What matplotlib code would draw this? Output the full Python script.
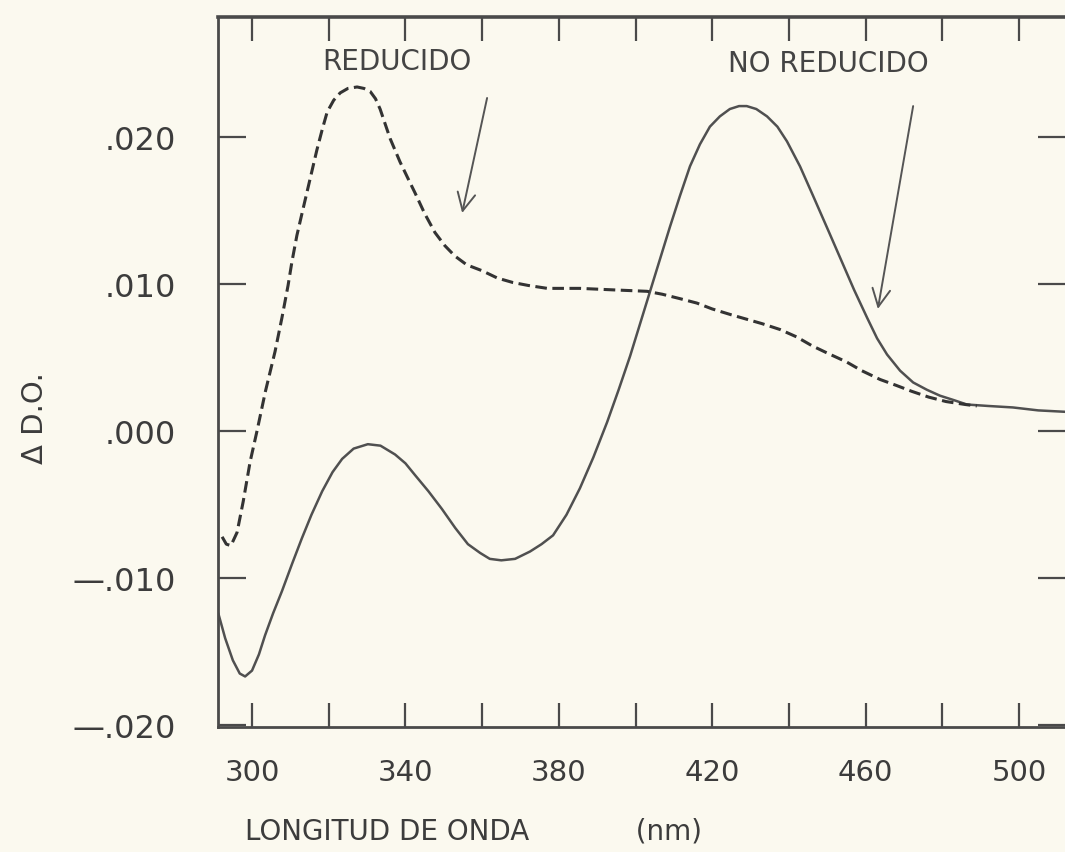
import matplotlib

matplotlib.use("Agg")

import matplotlib.pyplot as plt
from matplotlib.ticker import FixedLocator, NullFormatter

# spectra (nm, delta OD)
reducido_nm = [292.2, 293.3, 294.5, 296.1, 297.7, 299.5, 301.3, 303.5, 306.0, 307.8,
               309.4, 310.4, 311.7, 313.3, 315.1, 316.9, 318.3, 319.6, 321.3, 323.0,
               325.0, 327.4, 329.2, 330.8, 332.2, 333.4, 336.0, 338.6, 341.0, 342.5,
               345.0, 347.7, 350.3, 352.9, 356.0, 360.0, 364.0, 368.0, 372.0, 377.0,
               385.5, 394.0, 403.0, 407.0, 411.6, 416.0, 420.0, 425.0, 429.0, 433.0,
               437.7, 442.0, 446.0, 450.0, 455.0, 459.0, 463.8, 468.0, 472.0, 476.5,
               481.0, 486.0, 489.0]
reducido_do = [-0.0072, -0.0077, -0.0078, -0.0069, -0.0048, -0.0021, 0.0000, 0.0027, 0.0054, 0.0077,
               0.0099, 0.0115, 0.0133, 0.0151, 0.0171, 0.0191, 0.0205, 0.0217, 0.0225, 0.0230,
               0.0233, 0.0234, 0.0233, 0.0231, 0.0226, 0.0219, 0.0199, 0.0183, 0.0170, 0.0162,
               0.0148, 0.0135, 0.0126, 0.0119, 0.0113, 0.0109, 0.0104, 0.0101, 0.0099, 0.0097,
               0.0097, 0.0096, 0.0095, 0.0093, 0.0090, 0.0087, 0.0083, 0.0079, 0.0076, 0.0073,
               0.0069, 0.0064, 0.0058, 0.0053, 0.0047, 0.0041, 0.0035, 0.0031, 0.0027, 0.0023,
               0.0020, 0.0018, 0.0017]

no_reducido_nm = [291.2, 293.0, 295.0, 296.8, 298.2, 300.0, 301.8, 303.4, 305.5, 307.8,
                  310.5, 313.0, 315.5, 318.3, 321.0, 323.5, 326.5, 330.2, 333.5, 337.3,
                  340.0, 342.5, 346.0, 349.5, 353.0, 356.3, 359.5, 362.0, 365.0, 368.6,
                  372.5, 375.5, 378.5, 382.0, 385.5, 389.0, 392.6, 395.6, 398.6, 401.2,
                  403.8, 406.4, 409.0, 411.6, 414.2, 416.8, 419.4, 422.0, 424.6, 427.0,
                  429.0, 431.5, 434.3, 437.0, 439.5, 442.9, 446.3, 450.5, 454.0, 457.0,
                  460.4, 463.0, 465.6, 469.0, 472.4, 476.0, 479.4, 483.0, 486.4, 492.0,
                  498.4, 505.0, 512.3]
no_reducido_do = [-0.0124, -0.0141, -0.0156, -0.0165, -0.0167, -0.0163, -0.0152, -0.0139, -0.0124, -0.0109,
                  -0.0090, -0.0073, -0.0057, -0.0041, -0.0028, -0.0019, -0.0012, -0.0009, -0.0010, -0.0016,
                  -0.0022, -0.0030, -0.0041, -0.0053, -0.0066, -0.0077, -0.0083, -0.0087, -0.0088, -0.0087,
                  -0.0082, -0.0077, -0.0071, -0.0057, -0.0039, -0.0018, 0.0006, 0.0028, 0.0051, 0.0073,
                  0.0095, 0.0117, 0.0139, 0.0160, 0.0180, 0.0195, 0.0207, 0.0214, 0.0219, 0.0221,
                  0.0221, 0.0219, 0.0214, 0.0207, 0.0197, 0.0180, 0.0160, 0.0135, 0.0114, 0.0096,
                  0.0077, 0.0063, 0.0052, 0.0041, 0.0033, 0.0028, 0.0024, 0.0021, 0.0018, 0.0017,
                  0.0016, 0.0014, 0.0013]

x_major = [300, 340, 380, 420, 460, 500]
x_labels = ["300", "340", "380", "420", "460", "500"]
x_minor = [320, 360, 400, 440, 480]
y_ticks = [-0.020, -0.010, 0.000, 0.010, 0.020]
y_labels = ["\u2014.020", "\u2014.010", ".000", ".010", ".020"]

PAPER = "#fbf9ef"
INK = "#4a4a4a"
INK_DARK = "#333333"
TEXT = "#3c3c3c"

plt.rcParams["font.family"] = ["DejaVu Sans"]

figure = plt.figure(figsize=(10.65, 8.53), dpi=100, facecolor=PAPER)
axis = figure.add_axes([0.2047, 0.1465, 0.7962, 0.8324], facecolor=PAPER)

axis.plot(no_reducido_nm, no_reducido_do, color="#505050", linewidth=1.8,
          solid_capstyle="round", solid_joinstyle="round")
axis.plot(reducido_nm, reducido_do, color=INK_DARK, linewidth=2.2,
          linestyle=(0, (3.8, 1.8)))

axis.set_xlim(291.13, 512.25)
axis.set_ylim(-0.02014, 0.02816)

axis.xaxis.set_major_locator(FixedLocator(x_major))
axis.set_xticklabels(x_labels)
axis.xaxis.set_minor_locator(FixedLocator(x_minor))
axis.xaxis.set_minor_formatter(NullFormatter())
axis.yaxis.set_major_locator(FixedLocator(y_ticks))
axis.set_yticklabels(y_labels)

axis.tick_params(axis="x", which="both", direction="in", top=True, bottom=True,
                 length=17, width=1.6, color=INK, labelsize=21, labelcolor=TEXT,
                 pad=22)
axis.tick_params(axis="y", which="both", direction="in", left=True, right=True,
                 length=20, width=1.6, color=INK, labelsize=23, labelcolor=TEXT,
                 pad=30)

for name, spine in axis.spines.items():
    spine.set_color(INK)
    spine.set_linewidth(2.0)
axis.spines["top"].set_linewidth(2.6)

axis.text(337.8, 0.0252, "REDUCIDO", fontsize=20, color="#444444",
          ha="center", va="center")
axis.text(450.2, 0.0250, "NO REDUCIDO", fontsize=20, color="#444444",
          ha="center", va="center")

arrow = dict(arrowstyle="->", color="#555555", lw=1.4, mutation_scale=32,
             shrinkA=0, shrinkB=0)
axis.annotate("", xy=(354.8, 0.01483), xytext=(361.3, 0.02265), arrowprops=arrow)
axis.annotate("", xy=(463.2, 0.0083), xytext=(472.4, 0.0221), arrowprops=arrow)

figure.text(245 / 1065, 1 - 832 / 853, "LONGITUD DE ONDA            (nm)", fontsize=20,
            color=TEXT, ha="left", va="center")
figure.text(35 / 1065, 1 - 418 / 853, "\u0394 D.O.", fontsize=21, color=TEXT,
            rotation=90, ha="center", va="center")

figure.savefig("out.png", dpi=100, facecolor=PAPER)
plt.close(figure)
print("wrote out.png")
